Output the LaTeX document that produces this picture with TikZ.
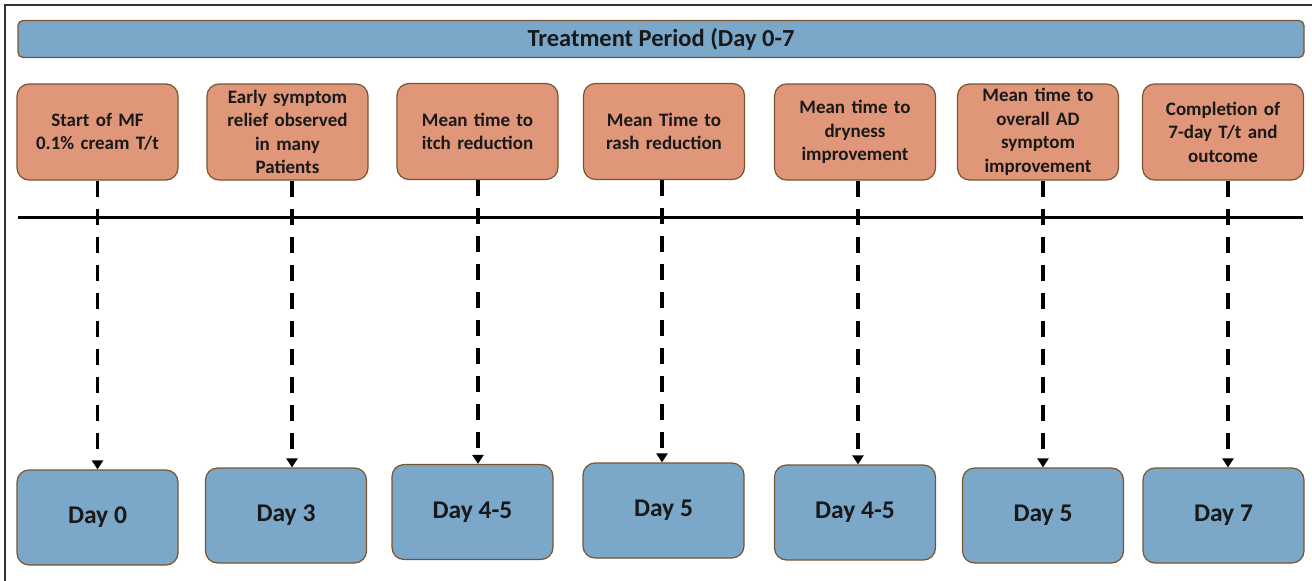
\documentclass[tikz,border=0pt]{standalone}
\usepackage{fontspec}
\setmainfont{Carlito}
\usetikzlibrary{positioning,calc,arrows.meta}
\definecolor{barblue}{RGB}{123,167,201}
\definecolor{eventorange}{RGB}{224,150,121}
\definecolor{edgebrown}{RGB}{120,85,45}
\definecolor{textblack}{RGB}{25,25,25}

\begin{document}
\begin{tikzpicture}[x=1pt, y=-1pt,
    box/.style={rectangle, rounded corners=12pt, draw=edgebrown, line width=1.2pt, minimum width=161pt, minimum height=96pt, inner sep=2pt, align=center, text=textblack},
    event/.style={box, fill=eventorange, text width=156pt, font=\fontsize{19}{23.5}\selectfont\bfseries},
    daybox/.style={box, fill=barblue, minimum height=95pt, font=\fontsize{25.5}{30}\selectfont\bfseries},
    titlebar/.style={rectangle, rounded corners=5pt, draw=edgebrown, line width=1.2pt, fill=barblue, minimum width=1286pt, minimum height=37pt, inner sep=0pt, text=textblack, font=\fontsize{24.5}{28}\selectfont\bfseries},
    conn/.style={line width=3.4pt, dash pattern=on 16pt off 12pt, -{Triangle[width=11pt,length=9pt]}}
]
\useasboundingbox (0,0) rectangle (1312,581);

% outer frame (cut at right and bottom)
\draw[line width=1.3pt, black!80] (5,581) -- (5,5) -- (1312,5);

% Title bar
\node[titlebar] (period) at (661,39) {Treatment Period (Day 0-7};

% Events
\node[event] (ev1) at (97.5,132) {Start of MF\\0.1\% cream T/t};
\node[event] (ev2) at (287.5,132) {Early symptom\\relief observed\\in many\\Patients};
\node[event] (ev3) at (477.5,131.5) {Mean time to\\itch reduction};
\node[event] (ev4) at (664,131.5) {Mean Time to\\rash reduction};
\node[event] (ev5) at (855,132) {Mean time to\\dryness\\improvement};
\node[event] (ev6) at (1038,132) {Mean time to\\overall AD\\symptom\\improvement};
\node[event] (ev7) at (1223,132) {Completion of\\7-day T/t and\\outcome};

% Days
\node[daybox] (day1) at (97.5,517.5) {Day 0};
\node[daybox] (day2) at (286,515.5) {Day 3};
\node[daybox] (day3) at (472.5,512) {Day 4-5};
\node[daybox] (day4) at (663.5,510.5) {Day 5};
\node[daybox] (day5) at (855,512.5) {Day 4-5};
\node[daybox] (day6) at (1043,515.5) {Day 5};
\node[daybox] (day7) at (1223.5,515.5) {Day 7};

% Time line
\coordinate (line-start) at (18,217);
\coordinate (line-end) at (1303,217);
\draw[line width=3pt] (line-start) -- (line-end);

% Dashed connectors
\foreach \i/\dx in {1/0,2/4.5,3/0.5,4/-2,5/3,6/5,7/5} {
    \draw[conn] ([xshift=\dx pt]ev\i.south) -- ([xshift=\dx pt]ev\i.south |- day\i.north);
}

\end{tikzpicture}
\end{document}
